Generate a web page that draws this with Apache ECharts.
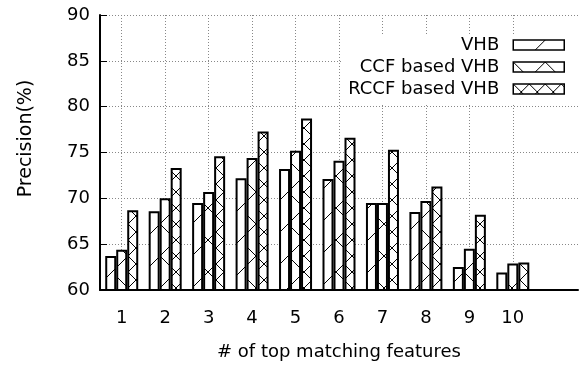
<!DOCTYPE html>
<html>
<head>
<meta charset="utf-8">
<script src="https://cdn.jsdelivr.net/npm/echarts@6/dist/echarts.min.js"></script>
<style>
  html, body { margin: 0; padding: 0; background: #fff; }
  #main { width: 581px; height: 369px; }
</style>
</head>
<body>
<div id="main"></div>
<script>
var categories = [1, 2, 3, 4, 5, 6, 7, 8, 9, 10];
var yTicks = [60, 65, 70, 75, 80, 85, 90];
var seriesNames = ["VHB", "CCF based VHB", "RCCF based VHB"];
var vhb = [63.7, 68.6, 69.5, 72.2, 73.2, 72.1, 69.5, 68.5, 62.5, 61.9];
var ccfVhb = [64.4, 70.0, 70.7, 74.4, 75.2, 74.1, 69.5, 69.7, 64.5, 62.9];
var rccfVhb = [68.7, 73.3, 74.6, 77.3, 78.7, 76.6, 75.3, 71.3, 68.2, 63.0];

// hatch tiles like the gnuplot fill patterns
function makePattern(size, slash, back) {
  var c = document.createElement("canvas");
  c.width = size;
  c.height = size;
  var ctx = c.getContext("2d");
  ctx.fillStyle = "#fff";
  ctx.fillRect(0, 0, size, size);
  ctx.strokeStyle = "#000";
  ctx.lineWidth = 1;
  ctx.beginPath();
  for (var o = -size; o <= size; o += size) {
    if (slash) {
      ctx.moveTo(o, size);
      ctx.lineTo(o + size, 0);
    }
    if (back) {
      ctx.moveTo(o, 0);
      ctx.lineTo(o + size, size);
    }
  }
  ctx.stroke();
  return { image: c, repeat: "repeat" };
}

var fills = [
  makePattern(32, true, false),
  makePattern(32, true, true),
  makePattern(16, true, true)
];
var values = [vhb, ccfVhb, rccfVhb];

var font = "DejaVu Sans";
var series = [];
for (var i = 0; i < values.length; i++) {
  series.push({
    name: seriesNames[i],
    type: "bar",
    barWidth: 11,
    barGap: "0%",
    itemStyle: {
      color: fills[i],
      borderColor: "#000",
      borderWidth: 2
    },
    data: categories.map(function(c, j) {
      return [c, values[i][j]];
    })
  });
}

var option = {
  animation: false,
  backgroundColor: "#fff",
  textStyle: { fontFamily: font },
  grid: { left: 100, right: 3, top: 15, bottom: 79 },
  legend: {
    orient: "vertical",
    align: "right",
    right: 3,
    top: 34,
    padding: [2, 13, 6, 7],
    itemGap: 4,
    itemWidth: 51,
    itemHeight: 10,
    icon: "rect",
    backgroundColor: "#fff",
    itemStyle: { borderColor: "#000", borderWidth: 1.5 },
    textStyle: {
      fontFamily: font,
      fontSize: 18,
      lineHeight: 18,
      color: "#000",
      padding: [0, 9, 0, 0]
    },
    data: seriesNames
  },
  xAxis: {
    type: "value",
    min: 0.5,
    max: 11.5,
    name: "# of top matching features",
    nameLocation: "middle",
    nameGap: 53,
    nameTextStyle: { fontFamily: font, fontSize: 18, color: "#000" },
    axisLine: { lineStyle: { color: "#000", width: 2 } },
    axisTick: {
      inside: true,
      length: 6,
      customValues: categories,
      lineStyle: { color: "#000" }
    },
    axisLabel: {
      customValues: categories,
      margin: 19,
      fontFamily: font,
      fontSize: 18,
      color: "#000"
    },
    splitLine: {
      show: true,
      lineStyle: { color: "#888", type: [1, 2], width: 1 }
    }
  },
  yAxis: {
    type: "value",
    min: yTicks[0],
    max: yTicks[yTicks.length - 1],
    interval: 5,
    name: "Precision(%)",
    nameLocation: "middle",
    nameGap: 64,
    nameTextStyle: {
      fontFamily: font,
      fontSize: 19,
      color: "#000",
      padding: [0, 0, 0, 28]
    },
    axisLine: { show: true, lineStyle: { color: "#000", width: 2 } },
    axisTick: { show: true, inside: true, length: 7, lineStyle: { color: "#000" } },
    axisLabel: { margin: 10, fontFamily: font, fontSize: 18, color: "#000" },
    splitLine: {
      show: true,
      lineStyle: { color: "#888", type: [1, 2], width: 1 }
    }
  },
  series: series
};

var myChart = echarts.init(document.getElementById("main"));
myChart.setOption(option);
</script>
</body>
</html>
